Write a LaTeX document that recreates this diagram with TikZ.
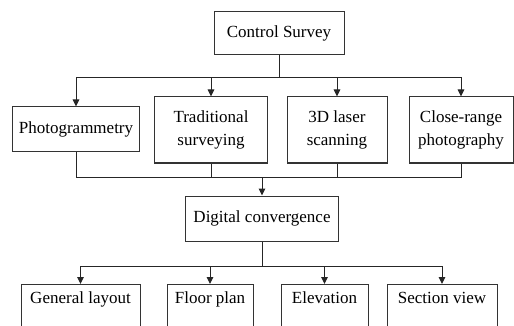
\documentclass[tikz,border=0pt]{standalone}
\usepackage{fontspec}
\setmainfont{Liberation Serif}
\newfontfamily\boxfont{Liberation Serif}
\usetikzlibrary{arrows.meta}
\begin{document}
\begin{tikzpicture}[x=1pt,y=-1pt,
  box/.style={draw=black!80, line width=1pt, fill=white, inner sep=0pt, align=center,
    font=\boxfont\fontsize{17}{22.5}\selectfont},
  link/.style={draw=black!85, line width=1pt},
  arr/.style={link, -{Triangle[width=6.5pt,length=7pt]}}]
\useasboundingbox (0,0) rectangle (514,326);
\begin{scope}
\clip (0,0) rectangle (514,326);
% top level
\node[box, minimum width=130, minimum height=43] (cs) at (279,33.5) {Control Survey};
% survey methods
\node[box, minimum width=127, minimum height=45] (ph) at (76,129.5) {Photogrammetry};
\node[box, minimum width=113, minimum height=66] (tr) at (211,130) {Traditional\\surveying};
\node[box, minimum width=100, minimum height=66] (ls) at (337,130) {3D laser\\scanning};
\node[box, minimum width=104, minimum height=66] (cr) at (461,130) {Close-range\\photography};
% merge
\node[box, minimum width=153, minimum height=45] (dc) at (262,218.5) {Digital convergence};
% drawings produced (boxes run past the lower edge)
\tikzset{outbox/.style={box, anchor=north, text height=19, text depth=30}}
\node[outbox, minimum width=119] (gl) at (80.5,284) {General layout};
\node[outbox, minimum width=86] (fp) at (210,284) {Floor plan};
\node[outbox, minimum width=87] (el) at (324.5,284) {Elevation};
\node[outbox, minimum width=110] (sv) at (442,284) {Section view};
% junction points
\coordinate (j0) at (279,78);
\coordinate (j1) at (262,177);
\coordinate (j2) at (262,266);
% control survey fan-out
\draw[link] (cs.south) -- (j0);
\draw[arr] (j0) -| (ph.north);
\draw[arr] (j0) -| (tr.north);
\draw[arr] (j0) -| (ls.north);
\draw[arr] (j0) -| (cr.north);
% methods merge into digital convergence
\draw[link] (ph.south) |- (j1);
\draw[link] (tr.south) |- (j1);
\draw[link] (ls.south) |- (j1);
\draw[link] (cr.south) |- (j1);
\draw[arr] (j1) -- (dc.north);
% outputs
\draw[link] (dc.south) -- (j2);
\draw[arr] (j2) -| (gl.north);
\draw[arr] (j2) -| (fp.north);
\draw[arr] (j2) -| (el.north);
\draw[arr] (j2) -| (sv.north);
\end{scope}
\end{tikzpicture}
\end{document}
